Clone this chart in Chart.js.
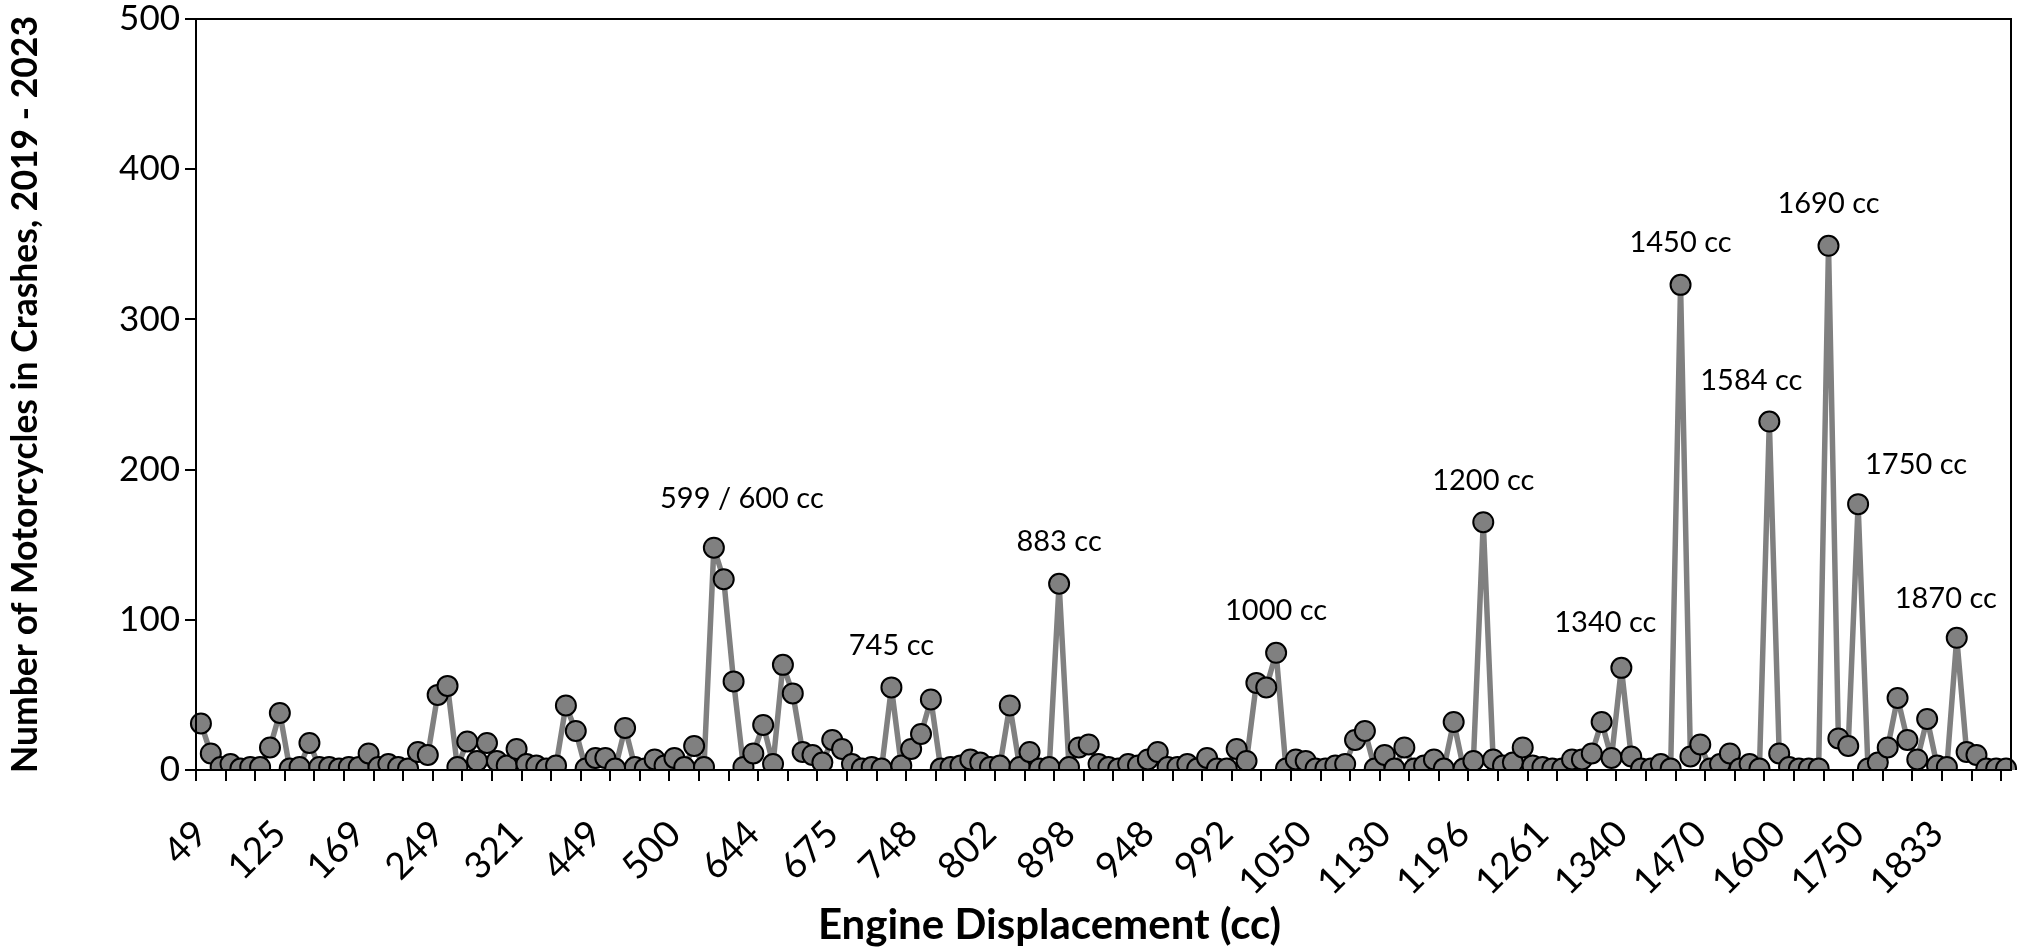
<!DOCTYPE html>
<html>
<head>
<meta charset="utf-8">
<script src="https://cdn.jsdelivr.net/npm/chart.js@4.4.1/dist/chart.umd.min.js"></script>
<style>
    html, body { margin: 0; padding: 0; background: #fff; }
    canvas { display: block; }
</style>
</head>
<body>
<canvas id="crashChart" width="2023" height="952"></canvas>
<script>
// labels shown under the axis (every 8th category)
const tickLabels = ["49", "125", "169", "249", "321", "449", "500", "644", "675", "748", "802", "898",
    "948", "992", "1050", "1130", "1196", "1261", "1340", "1470", "1600", "1750", "1833"];

// motorcycles in crashes per engine size, 2019 - 2023 (184 categories)
const crashCounts = [
    31, 11, 2, 4, 1, 2, 2, 15, 38, 1, 2, 18, 2, 2, 1, 2, 2, 11, 2, 4, 2, 1, 12, 10,
    50, 56, 2, 19, 6, 18, 6, 3, 14, 4, 3, 1, 3, 43, 26, 1, 8, 8, 1, 28, 2, 1, 7, 3,
    8, 2, 16, 2, 148, 127, 59, 2, 11, 30, 4, 70, 51, 12, 10, 5, 20, 14, 4, 1, 2, 1,
    55, 3, 14, 24, 47, 1, 2, 3, 7, 5, 2, 3, 43, 2, 12, 1, 2, 124, 2, 15, 17, 4,
    2, 1, 4, 3, 7, 12, 2, 2, 4, 1, 8, 1, 1, 14, 6, 58, 55, 78, 1, 7, 6, 1,
    1, 3, 4, 20, 26, 1, 10, 1, 15, 1, 3, 7, 1, 32, 1, 6, 165, 7, 3, 5, 15, 3,
    2, 1, 1, 7, 7, 11, 32, 8, 68, 9, 1, 1, 4, 1, 323, 9, 17, 1, 4, 11, 1, 4,
    1, 232, 11, 2, 1, 1, 1, 349, 21, 16, 177, 1, 5, 15, 48, 20, 7, 34, 3, 2, 88, 12,
    10, 1, 1, 1
];

// annotated peaks: category index and text
const peakIndex = [52, 70, 87, 109, 130, 144, 150, 159, 165, 168, 178];
const peakText = ["599 / 600 cc", "745 cc", "883 cc", "1000 cc", "1200 cc", "1340 cc",
    "1450 cc", "1584 cc", "1690 cc", "1750 cc", "1870 cc"];

const yTicks = [0, 100, 200, 300, 400, 500];

const categories = crashCounts.map((v, i) => i % 8 === 0 ? tickLabels[i / 8] : "");

// label nudges (px)
const peakNudge = {
    52: [28, -49], 144: [-16, -45], 159: [-18, -41], 168: [58, -40], 178: [-11, -39]
};

const peakLabelPlugin = {
    id: "peakLabels",
    afterDatasetsDraw(chart) {
        const { ctx, scales } = chart;
        ctx.save();
        ctx.font = "29px Lato";
        ctx.fillStyle = "#000";
        ctx.textAlign = "center";
        ctx.textBaseline = "middle";
        peakIndex.forEach((idx, k) => {
            const nudge = peakNudge[idx] || [0, -42];
            const x = scales.x.getPixelForValue(idx);
            const y = scales.y.getPixelForValue(crashCounts[idx]);
            ctx.fillText(peakText[k], x + nudge[0], y + nudge[1]);
        });
        ctx.restore();
    }
};

// plot frame + x axis title (title sits a bit left of centre in the original)
const frameBox = {
    id: "frameBox",
    afterDraw(chart) {
        const { ctx, chartArea: a } = chart;
        ctx.save();
        ctx.strokeStyle = "#000";
        ctx.lineWidth = 2;
        ctx.strokeRect(a.left, a.top, a.right - a.left, a.bottom - a.top);

        ctx.font = "bold 42px Lato";
        ctx.fillStyle = "#000";
        ctx.textAlign = "center";
        ctx.textBaseline = "middle";
        ctx.fillText("Engine Displacement (cc)", (a.left + a.right) / 2 - 54, 925);
        ctx.restore();
    }
};

new Chart(document.getElementById("crashChart").getContext("2d"), {
    type: "line",
    data: {
        labels: categories,
        datasets: [{
            data: crashCounts,
            borderColor: "#808080",
            borderWidth: 5.5,
            borderJoinStyle: "round",
            tension: 0,
            pointRadius: 10,
            pointBackgroundColor: "#808080",
            pointBorderColor: "#000",
            pointBorderWidth: 2
        }]
    },
    options: {
        responsive: false,
        devicePixelRatio: 1,
        animation: false,
        events: [],
        layout: { padding: { top: 19, right: 5, left: 0, bottom: 0 } },
        plugins: {
            legend: { display: false },
            tooltip: { enabled: false }
        },
        scales: {
            x: {
                type: "category",
                offset: true,
                afterFit: s => { s.height = 182; s.paddingLeft = 0; s.paddingRight = 0; },
                grid: {
                    offset: true,
                    drawOnChartArea: false,
                    tickLength: 11,
                    lineWidth: 2,
                    color: c => (c.index !== undefined && c.index % 3 === 0) ? "#000" : "rgba(0,0,0,0)"
                },
                border: { display: true, color: "#000", width: 2 },
                ticks: {
                    autoSkip: false,
                    minRotation: 45,
                    maxRotation: 45,
                    padding: 31,
                    color: "#000",
                    font: { family: "Lato", size: 37 },
                    callback: function (v, i) { return categories[i]; }
                },
                title: { display: false }
            },
            y: {
                min: 0,
                max: 500,
                afterFit: s => { s.width = 196; s.paddingTop = 0; s.paddingBottom = 0; },
                afterBuildTicks: s => { s.ticks = yTicks.map(v => ({ value: v })); },
                grid: { drawOnChartArea: false, tickLength: 11, lineWidth: 2, color: "#000" },
                border: { display: true, color: "#000", width: 2 },
                ticks: {
                    padding: 5,
                    color: "#000",
                    font: { family: "Lato", size: 35, lineHeight: 1.0 }
                },
                title: {
                    display: true,
                    text: "Number of Motorcycles in Crashes, 2019 - 2023",
                    color: "#000",
                    font: { family: "Lato", size: 35.5, weight: "bold" },
                    padding: { top: 4, bottom: 0 }
                }
            }
        }
    },
    plugins: [peakLabelPlugin, frameBox]
});
</script>
</body>
</html>
